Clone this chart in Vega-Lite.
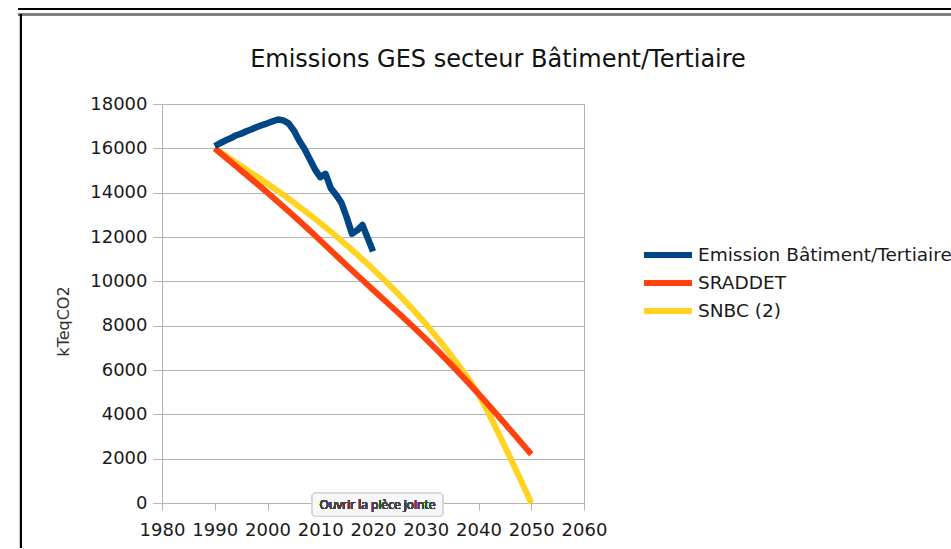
{
  "$schema": "https://vega.github.io/schema/vega-lite/v6.json",
  "width": 422,
  "height": 399,
  "padding": {"left": 16, "top": 8, "right": 0, "bottom": 0},
  "background": "white",
  "title": {
    "text": "Emissions GES secteur Bâtiment/Tertiaire",
    "font": "DejaVu Sans",
    "fontSize": 24,
    "fontWeight": "normal",
    "color": "#111111",
    "anchor": "middle",
    "frame": "group",
    "dx": 125,
    "offset": -64
  },
  "data": {
    "values": [
      {"serie": "Emission Bâtiment/Tertiaire", "annee": 1990, "valeur": 16100},
      {"serie": "Emission Bâtiment/Tertiaire", "annee": 1991, "valeur": 16230},
      {"serie": "Emission Bâtiment/Tertiaire", "annee": 1992, "valeur": 16350},
      {"serie": "Emission Bâtiment/Tertiaire", "annee": 1993, "valeur": 16450},
      {"serie": "Emission Bâtiment/Tertiaire", "annee": 1994, "valeur": 16580},
      {"serie": "Emission Bâtiment/Tertiaire", "annee": 1995, "valeur": 16660},
      {"serie": "Emission Bâtiment/Tertiaire", "annee": 1996, "valeur": 16770},
      {"serie": "Emission Bâtiment/Tertiaire", "annee": 1997, "valeur": 16860},
      {"serie": "Emission Bâtiment/Tertiaire", "annee": 1998, "valeur": 16960},
      {"serie": "Emission Bâtiment/Tertiaire", "annee": 1999, "valeur": 17050},
      {"serie": "Emission Bâtiment/Tertiaire", "annee": 2000, "valeur": 17130},
      {"serie": "Emission Bâtiment/Tertiaire", "annee": 2001, "valeur": 17220},
      {"serie": "Emission Bâtiment/Tertiaire", "annee": 2002, "valeur": 17300},
      {"serie": "Emission Bâtiment/Tertiaire", "annee": 2003, "valeur": 17260},
      {"serie": "Emission Bâtiment/Tertiaire", "annee": 2004, "valeur": 17130},
      {"serie": "Emission Bâtiment/Tertiaire", "annee": 2005, "valeur": 16800},
      {"serie": "Emission Bâtiment/Tertiaire", "annee": 2006, "valeur": 16350},
      {"serie": "Emission Bâtiment/Tertiaire", "annee": 2007, "valeur": 15980},
      {"serie": "Emission Bâtiment/Tertiaire", "annee": 2008, "valeur": 15520},
      {"serie": "Emission Bâtiment/Tertiaire", "annee": 2009, "valeur": 15050},
      {"serie": "Emission Bâtiment/Tertiaire", "annee": 2010, "valeur": 14700},
      {"serie": "Emission Bâtiment/Tertiaire", "annee": 2011, "valeur": 14850},
      {"serie": "Emission Bâtiment/Tertiaire", "annee": 2012, "valeur": 14200},
      {"serie": "Emission Bâtiment/Tertiaire", "annee": 2013, "valeur": 13900},
      {"serie": "Emission Bâtiment/Tertiaire", "annee": 2014, "valeur": 13550},
      {"serie": "Emission Bâtiment/Tertiaire", "annee": 2015, "valeur": 12900},
      {"serie": "Emission Bâtiment/Tertiaire", "annee": 2016, "valeur": 12150},
      {"serie": "Emission Bâtiment/Tertiaire", "annee": 2017, "valeur": 12300},
      {"serie": "Emission Bâtiment/Tertiaire", "annee": 2018, "valeur": 12540},
      {"serie": "Emission Bâtiment/Tertiaire", "annee": 2019, "valeur": 11950},
      {"serie": "Emission Bâtiment/Tertiaire", "annee": 2020, "valeur": 11350},
      {"serie": "SRADDET", "annee": 1990, "valeur": 16000},
      {"serie": "SRADDET", "annee": 1995, "valeur": 15000},
      {"serie": "SRADDET", "annee": 2000, "valeur": 14000},
      {"serie": "SRADDET", "annee": 2005, "valeur": 12950},
      {"serie": "SRADDET", "annee": 2010, "valeur": 11850},
      {"serie": "SRADDET", "annee": 2015, "valeur": 10720},
      {"serie": "SRADDET", "annee": 2020, "valeur": 9620},
      {"serie": "SRADDET", "annee": 2025, "valeur": 8530},
      {"serie": "SRADDET", "annee": 2030, "valeur": 7400},
      {"serie": "SRADDET", "annee": 2035, "valeur": 6200},
      {"serie": "SRADDET", "annee": 2040, "valeur": 4930},
      {"serie": "SRADDET", "annee": 2045, "valeur": 3580},
      {"serie": "SRADDET", "annee": 2050, "valeur": 2200},
      {"serie": "SNBC (2)", "annee": 1990, "valeur": 16000},
      {"serie": "SNBC (2)", "annee": 1995, "valeur": 15200},
      {"serie": "SNBC (2)", "annee": 2000, "valeur": 14400},
      {"serie": "SNBC (2)", "annee": 2005, "valeur": 13550},
      {"serie": "SNBC (2)", "annee": 2010, "valeur": 12630},
      {"serie": "SNBC (2)", "annee": 2015, "valeur": 11630},
      {"serie": "SNBC (2)", "annee": 2020, "valeur": 10550},
      {"serie": "SNBC (2)", "annee": 2025, "valeur": 9380},
      {"serie": "SNBC (2)", "annee": 2030, "valeur": 8080},
      {"serie": "SNBC (2)", "annee": 2035, "valeur": 6600},
      {"serie": "SNBC (2)", "annee": 2040, "valeur": 4900},
      {"serie": "SNBC (2)", "annee": 2045, "valeur": 2550},
      {"serie": "SNBC (2)", "annee": 2050, "valeur": 0}
    ]
  },
  "encoding": {
    "x": {
      "field": "annee",
      "type": "quantitative",
      "scale": {"domain": [1980, 2060], "nice": false, "zero": false},
      "axis": {
        "title": null,
        "values": [1980, 1990, 2000, 2010, 2020, 2030, 2040, 2050, 2060],
        "format": "d",
        "grid": false,
        "tickSize": 7,
        "labelPadding": 11,
        "labelFlush": false,
        "labelOverlap": false
      }
    },
    "y": {
      "field": "valeur",
      "type": "quantitative",
      "scale": {"domain": [0, 18000], "nice": false},
      "axis": {
        "title": "kTeqCO2",
        "values": [0, 2000, 4000, 6000, 8000, 10000, 12000, 14000, 16000, 18000],
        "format": "d",
        "grid": true,
        "tickSize": 9,
        "labelPadding": 6,
        "titlePadding": 18,
        "titleY": 217,
        "labelOverlap": false
      }
    },
    "color": {
      "field": "serie",
      "type": "nominal",
      "scale": {
        "domain": ["Emission Bâtiment/Tertiaire", "SRADDET", "SNBC (2)"],
        "range": ["#004586", "#ff420e", "#ffd320"]
      },
      "legend": {
        "title": null,
        "orient": "none",
        "legendX": 491,
        "legendY": 136,
        "symbolType": "M-2,0L2,0",
        "symbolSize": 576,
        "symbolStrokeWidth": 6,
        "labelFontSize": 18.5,
        "labelFont": "DejaVu Sans",
        "labelColor": "#1a1a1a",
        "labelOffset": 15,
        "labelLimit": 400,
        "rowPadding": 1,
        "padding": 0
      }
    }
  },
  "layer": [
    {
      "transform": [{"filter": "datum.serie === 'SNBC (2)'"}],
      "mark": {"type": "line", "strokeWidth": 6, "interpolate": "monotone", "strokeCap": "butt"}
    },
    {
      "transform": [{"filter": "datum.serie === 'SRADDET'"}],
      "mark": {"type": "line", "strokeWidth": 6, "interpolate": "monotone", "strokeCap": "butt"}
    },
    {
      "transform": [{"filter": "datum.serie === 'Emission Bâtiment/Tertiaire'"}],
      "mark": {"type": "line", "strokeWidth": 6.5, "strokeJoin": "round"}
    },
    {
      "mark": {"type": "rect", "fill": "#f7f7f7", "stroke": "#d4d4d4", "strokeWidth": 1, "cornerRadius": 3},
      "encoding": {
        "x": {"datum": 2008.5},
        "x2": {"datum": 2033.2},
        "y": {"datum": 440},
        "y2": {"datum": -590},
        "color": {"value": null}
      }
    },
    {
      "mark": {"type": "text", "text": "Ouvrir la pièce jointe", "font": "Open Sans", "fontSize": 12, "fontWeight": "normal", "align": "center", "baseline": "middle"},
      "encoding": {
        "x": {"datum": 2020.85},
        "y": {"datum": -75},
        "color": {"value": "#444444"}
      }
    },
    {
      "mark": {"type": "rule", "stroke": "#000000", "strokeWidth": 1.5},
      "encoding": {
        "x": {"datum": 1952.7},
        "x2": {"datum": 2129.5},
        "y": {"datum": 22286},
        "color": {"value": "#000000"}
      }
    },
    {
      "mark": {"type": "rule", "stroke": "#808080", "strokeWidth": 2},
      "encoding": {
        "x": {"datum": 1952.7},
        "x2": {"datum": 2129.5},
        "y": {"datum": 22040},
        "color": {"value": "#808080"}
      }
    },
    {
      "mark": {"type": "rule", "stroke": "#000000", "strokeWidth": 2},
      "encoding": {
        "x": {"datum": 1953.27},
        "y": {"datum": 22040},
        "y2": {"datum": -2030},
        "color": {"value": "#000000"}
      }
    }
  ],
  "config": {
    "font": "DejaVu Sans",
    "view": {"stroke": "#b3b3b3", "strokeWidth": 1},
    "axis": {
      "domain": false,
      "gridColor": "#b3b3b3",
      "gridWidth": 1,
      "tickColor": "#b3b3b3",
      "labelFont": "DejaVu Sans",
      "labelFontSize": 18,
      "labelColor": "#1a1a1a",
      "titleFont": "DejaVu Sans",
      "titleFontSize": 16,
      "titleFontWeight": "normal",
      "titleColor": "#333333"
    }
  }
}
